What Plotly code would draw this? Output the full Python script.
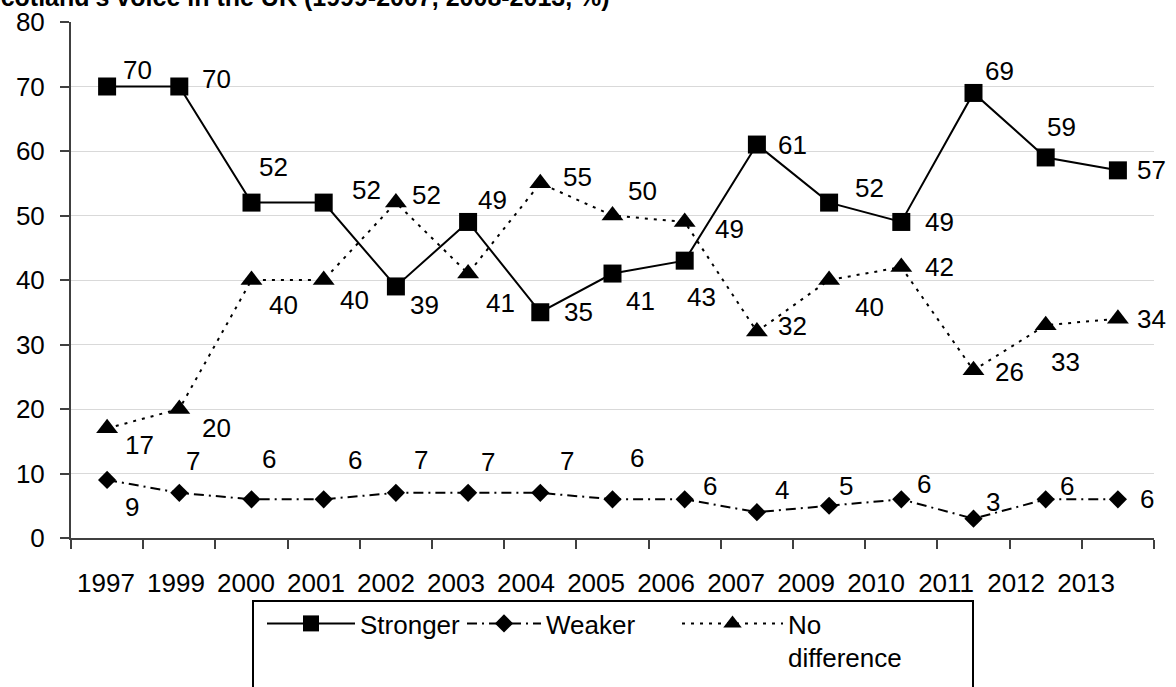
import plotly.graph_objects as go

years = ["1997", "1999", "2000", "2001", "2002", "2003", "2004", "2005",
         "2006", "2007", "2009", "2010", "2011", "2012", "2013"]
stronger = [70, 70, 52, 52, 39, 49, 35, 41, 43, 61, 52, 49, 69, 59, 57]
weaker = [9, 7, 6, 6, 7, 7, 7, 6, 6, 4, 5, 6, 3, 6, 6]
no_difference = [17, 20, 40, 40, 52, 41, 55, 50, 49, 32, 40, 42, 26, 33, 34]

title_text = "Scotland's voice in the UK (1999-2007, 2008-2013, %)"

# label offsets in pixels (dx right, dy down)
off_stronger = [(30, -17), (37, -8), (22, -36), (43, -13), (29, 19), (24, -22), (38, 0),
                (28, 27), (17, 36), (36, 0), (40, -15), (38, 0), (26, -22), (16, -30), (34, 0)]
off_weaker = [(25, 27), (14, -32), (17, -40), (31, -39), (25, -33), (20, -31), (27, -32),
              (24, -41), (25, -13), (25, -22), (17, -20), (23, -15), (19, -17), (21, -13), (29, 0)]
off_nodiff = [(32, 17), (37, 19), (32, 25), (31, 20), (31, -8), (32, 29), (37, -6),
              (30, -25), (45, 7), (36, -6), (40, 27), (38, 0), (36, 2), (20, 37), (34, 0)]

FONT = "Liberation Sans, Arial, sans-serif"
FS = 26

# plot area in pixels
W, H = 1176, 687
L, R, T, B = 71, 1154, 22, 538


def px(xp):
    return (xp - L) / (R - L)


def py(yp):
    return (B - yp) / (B - T)


fig = go.Figure()

fig.add_trace(go.Scatter(
    x=years, y=stronger, name="Stronger", mode="lines+markers",
    line=dict(color="black", width=2),
    marker=dict(symbol="square", size=18, color="black"),
    legend="legend",
))
fig.add_trace(go.Scatter(
    x=years, y=weaker, name="Weaker", mode="lines+markers",
    line=dict(color="black", width=2, dash="10px,5px,2px,5px"),
    marker=dict(symbol="diamond", size=14, color="black"),
    legend="legend2",
))
fig.add_trace(go.Scatter(
    x=years, y=no_difference, name="No<br>difference", mode="lines+markers",
    line=dict(color="black", width=2, dash="3px,6px"),
    marker=dict(symbol="triangle-up", size=19, color="black"),
    legend="legend3",
))
# helper (invisible) trace carrying the tick-label axis
fig.add_trace(go.Scatter(
    x=list(range(len(years))), y=[None] * len(years), xaxis="x2",
    mode="markers", showlegend=False, hoverinfo="skip",
))

annotations = []
for series, offs in ((stronger, off_stronger), (weaker, off_weaker), (no_difference, off_nodiff)):
    for i, (v, (dx, dy)) in enumerate(zip(series, offs)):
        annotations.append(dict(
            x=i, y=v, xref="x", yref="y", text=str(v), showarrow=False,
            xshift=dx, yshift=-dy, xanchor="center", yanchor="middle",
            font=dict(family=FONT, size=FS, color="black"),
        ))

annotations.append(dict(
    x=px(-18), y=py(-3), xref="paper", yref="paper", text="<b>" + title_text + "</b>",
    showarrow=False, xanchor="left", yanchor="middle",
    font=dict(family=FONT, size=25, color="black"),
))


def legend_box(x_px, item_w):
    return dict(
        orientation="h", x=px(x_px), xanchor="left", y=py(600), yanchor="top",
        itemwidth=item_w, valign="top",
        bgcolor="rgba(0,0,0,0)", borderwidth=0,
        font=dict(family=FONT, size=FS, color="black"),
    )


fig.update_layout(
    width=W, height=H,
    margin=dict(l=L, r=W - R, t=T, b=H - B, autoexpand=False),
    paper_bgcolor="white", plot_bgcolor="white",
    font=dict(family=FONT, size=FS, color="black"),
    showlegend=True,
    legend=legend_box(262, 88),
    legend2=legend_box(462, 74),
    legend3=legend_box(677, 101),
    xaxis=dict(
        type="category", range=[-0.5, len(years) - 0.5],
        showgrid=False, zeroline=False,
        showline=True, linecolor="#404040", linewidth=2,
        ticks="outside", tickson="boundaries", ticklen=9, tickwidth=2, tickcolor="#404040",
        showticklabels=False,
    ),
    xaxis2=dict(
        overlaying="x", anchor="y", side="bottom", type="linear",
        range=[-0.5, 14.97], showgrid=False, zeroline=False, showline=False,
        ticks="", tickvals=list(range(len(years))), ticktext=years,
        ticklabelstandoff=27,
        tickfont=dict(family=FONT, size=FS, color="black"),
    ),
    yaxis=dict(
        range=[0, 80], dtick=10, tick0=0,
        showgrid=True, gridcolor="#d9d9d9", gridwidth=1,
        zeroline=False,
        showline=True, linecolor="#404040", linewidth=2,
        ticks="outside", ticklen=9, tickwidth=2, tickcolor="#404040",
        ticklabelstandoff=10,
        tickfont=dict(family=FONT, size=FS, color="black"),
    ),
    annotations=annotations,
    shapes=[dict(
        type="rect", xref="paper", yref="paper",
        x0=px(253), x1=px(973), y0=py(601), y1=py(720),
        line=dict(color="black", width=2), fillcolor="rgba(0,0,0,0)",
    )],
)

fig.write_html("out.html", config={"displayModeBar": False},
               post_script="document.body.style.margin='0px';")
